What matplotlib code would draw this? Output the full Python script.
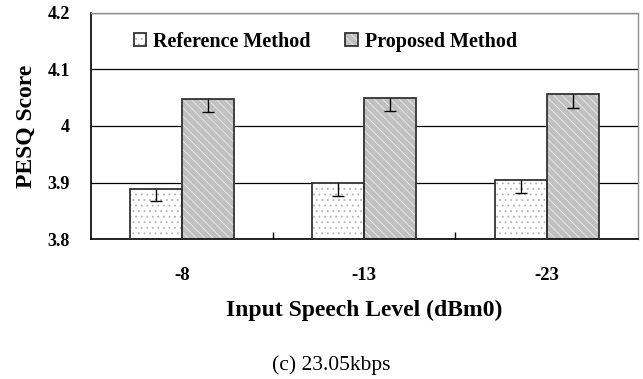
import matplotlib
matplotlib.use("Agg")
import matplotlib.pyplot as plt
from matplotlib.legend_handler import HandlerTuple
import numpy as np

# Data
levels = ["-8", "-13", "-23"]
reference = [3.889, 3.899, 3.904]
proposed = [4.047, 4.050, 4.056]
ref_err = [0.022, 0.023, 0.023]
prop_err = [0.023, 0.023, 0.025]
series_names = ["Reference Method", "Proposed Method"]

plt.rcParams["font.family"] = ["Liberation Serif", "DejaVu Serif"]
plt.rcParams["hatch.linewidth"] = 0.6

fig = plt.figure(figsize=(6.43, 3.79), dpi=100)
ax = fig.add_axes([0.141, 0.369, 0.851, 0.5975])

x = np.arange(len(levels))
w = 0.285

# fill + hatch layer, then outline layer on top
ref_fill = ax.bar(x - w / 2, reference, w, color="white", hatch="...",
                  edgecolor="#b4b4b4", linewidth=0, zorder=2)
prop_fill = ax.bar(x + w / 2, proposed, w, color="#c0c0c0", hatch="\\\\\\\\",
                   edgecolor="#ececec", linewidth=0, zorder=2)
ref_edge = ax.bar(x - w / 2, reference, w, fill=False, edgecolor="#333333",
                  linewidth=1.3, zorder=3)
prop_edge = ax.bar(x + w / 2, proposed, w, fill=False, edgecolor="#333333",
                   linewidth=1.3, zorder=3)

# minus-only error bars (hide the upper cap)
for xs, vals, errs in ((x - w / 2, reference, ref_err), (x + w / 2, proposed, prop_err)):
    eb = ax.errorbar(xs, vals, yerr=[errs, [0] * len(errs)], fmt="none",
                     ecolor="black", elinewidth=1, capsize=4.5, capthick=1, zorder=4)
    eb[1][1].set_visible(False)

ax.set_ylim(3.8, 4.2)
ax.set_xlim(-0.5, len(levels) - 0.5)
ax.set_yticks([3.8, 3.9, 4.0, 4.1, 4.2])
ax.set_yticklabels(["3.8", "3.9", "4", "4.1", "4.2"])
ax.set_xticks(x)
ax.set_xticklabels(levels)
ax.set_xticks([0.5, 1.5], minor=True)
ax.tick_params(axis="x", which="major", length=0, pad=20, labelsize=13.5)
ax.tick_params(axis="x", which="minor", direction="in", length=5, width=1)
ax.tick_params(axis="y", length=0, pad=15, labelsize=13)
for lab in ax.get_xticklabels() + ax.get_yticklabels():
    lab.set_fontweight("bold")

ax.yaxis.grid(True, color="black", linewidth=0.9, zorder=0)
ax.set_axisbelow(True)

ax.spines["left"].set_color("black")
ax.spines["bottom"].set_color("black")
ax.spines["left"].set_linewidth(1.2)
ax.spines["bottom"].set_linewidth(1.2)
for s in ("top", "right"):
    ax.spines[s].set_color("#909090")
    ax.spines[s].set_linewidth(1.0)

ax.set_ylabel("PESQ Score", fontsize=17, fontweight="bold")
ax.set_xlabel("Input Speech Level (dBm0)", fontsize=17, fontweight="bold")
ax.yaxis.set_label_coords(-0.099, 0.5)
ax.xaxis.set_label_coords(0.5, -0.27)

ax.legend([(ref_fill, ref_edge), (prop_fill, prop_edge)], series_names,
          handler_map={tuple: HandlerTuple(ndivide=1)},
          loc="center left", bbox_to_anchor=(0.06, 0.872), ncol=2,
          frameon=False, handlelength=0.6, handleheight=0.6, handletextpad=0.35,
          columnspacing=1.75, borderpad=0, prop={"size": 14.5, "weight": "bold"})

fig.text(0.515, 0.037, "(c) 23.05kbps", ha="center", va="center", fontsize=15.5)

fig.savefig("out.png", dpi=100)
